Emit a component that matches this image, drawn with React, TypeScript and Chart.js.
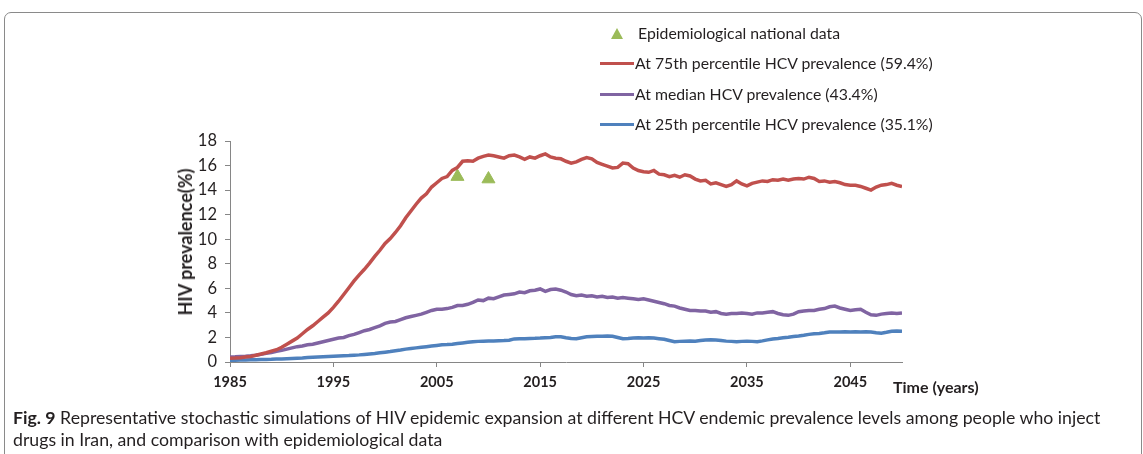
import React, { useEffect, useRef } from "react";
import { Chart, registerables } from "chart.js";

Chart.register(...registerables);

// x grid: half-year steps 1985..2050
const years: number[] = [];
for (let i = 0; i <= 130; i++) years.push(1985 + i * 0.5);

const xTicks = [1985, 1995, 2005, 2015, 2025, 2035, 2045];

const red75 = [
  0.30, 0.32, 0.35, 0.40, 0.45, 0.55, 0.65, 0.75, 0.88, 1.0,
  1.2, 1.45, 1.7, 1.95, 2.3, 2.65, 2.95, 3.3, 3.65, 4.0,
  4.45, 4.95, 5.5, 6.05, 6.6, 7.1, 7.55, 8.05, 8.6, 9.1,
  9.65, 10.05, 10.55, 11.1, 11.75, 12.3, 12.85, 13.35, 13.7, 14.25,
  14.6, 14.95, 15.1, 15.6, 15.85, 16.35, 16.4, 16.35, 16.6, 16.75,
  16.85, 16.8, 16.7, 16.6, 16.8, 16.85, 16.7, 16.5, 16.7, 16.6,
  16.8, 16.95, 16.7, 16.6, 16.55, 16.35, 16.2, 16.3, 16.5, 16.65,
  16.55, 16.25, 16.1, 15.95, 15.8, 15.85, 16.2, 16.15, 15.8, 15.6,
  15.5, 15.45, 15.6, 15.3, 15.25, 15.1, 15.2, 15.05, 15.25, 15.15,
  14.9, 14.75, 14.8, 14.5, 14.6, 14.45, 14.3, 14.45, 14.75, 14.5,
  14.35, 14.55, 14.65, 14.75, 14.7, 14.85, 14.8, 14.9, 14.8, 14.9,
  14.95, 14.9, 15.05, 14.95, 14.7, 14.75, 14.65, 14.7, 14.6, 14.45,
  14.4, 14.4, 14.3, 14.15, 14.0, 14.25, 14.4, 14.45, 14.55, 14.4,
  14.3,
];

const purpleMedian = [
  0.40, 0.42, 0.45, 0.47, 0.5, 0.55, 0.62, 0.7, 0.78, 0.88,
  0.95, 1.05, 1.15, 1.25, 1.3, 1.4, 1.45, 1.55, 1.65, 1.75,
  1.85, 1.95, 2.0, 2.15, 2.25, 2.4, 2.55, 2.65, 2.8, 2.95,
  3.15, 3.25, 3.3, 3.45, 3.6, 3.7, 3.8, 3.9, 4.05, 4.2,
  4.3, 4.3, 4.35, 4.45, 4.6, 4.6, 4.7, 4.85, 5.05, 5.0,
  5.2, 5.15, 5.3, 5.45, 5.5, 5.55, 5.7, 5.65, 5.8, 5.85,
  5.95, 5.75, 5.9, 5.95, 5.85, 5.7, 5.5, 5.4, 5.45, 5.35,
  5.4, 5.3, 5.35, 5.25, 5.3, 5.2, 5.25, 5.2, 5.15, 5.1,
  5.15, 5.05, 4.95, 4.85, 4.75, 4.6, 4.55, 4.4, 4.3, 4.2,
  4.2, 4.15, 4.15, 4.05, 4.1, 3.95, 3.9, 3.95, 3.95, 4.0,
  3.95, 3.9, 4.0, 4.0, 4.05, 4.1, 3.95, 3.85, 3.8, 3.9,
  4.1, 4.15, 4.2, 4.2, 4.3, 4.35, 4.5, 4.55, 4.4, 4.3,
  4.2, 4.25, 4.3, 4.05, 3.85, 3.8, 3.9, 3.95, 4.0, 3.95,
  4.0,
];

const blue25 = [
  0.15, 0.15, 0.16, 0.17, 0.18, 0.19, 0.2, 0.21, 0.22, 0.24,
  0.25, 0.27, 0.29, 0.31, 0.33, 0.36, 0.38, 0.4, 0.42, 0.44,
  0.46, 0.48, 0.5, 0.52, 0.55, 0.58, 0.62, 0.66, 0.7, 0.75,
  0.8, 0.85, 0.92, 0.98, 1.05, 1.1, 1.15, 1.2, 1.25, 1.3,
  1.35, 1.4, 1.42, 1.45, 1.5, 1.55, 1.6, 1.65, 1.68, 1.7,
  1.72, 1.72, 1.74, 1.75, 1.78, 1.88, 1.9, 1.9, 1.92, 1.93,
  1.95, 1.98, 2.0, 2.05, 2.05, 1.98, 1.92, 1.9, 1.98, 2.05,
  2.08, 2.1, 2.1, 2.12, 2.1, 2.0, 1.9, 1.92, 1.95, 1.98,
  1.95, 1.98, 1.95, 1.9, 1.85, 1.75, 1.65, 1.68, 1.7, 1.72,
  1.7, 1.75, 1.8, 1.82, 1.8, 1.75, 1.7, 1.68, 1.65, 1.68,
  1.7, 1.68, 1.65, 1.72, 1.8, 1.88, 1.92, 1.98, 2.02, 2.08,
  2.12, 2.18, 2.25, 2.3, 2.32, 2.38, 2.45, 2.45, 2.44, 2.46,
  2.45, 2.47, 2.45, 2.46, 2.45, 2.38, 2.35, 2.42, 2.5, 2.52,
  2.5,
];

const epiYears = [2007, 2010];
const epiValues = [15.1, 14.9];

const RED = "#C0504D";
const PURPLE = "#8064A2";
const BLUE = "#4F81BD";
const GREEN = "#9BBB59";
const AXIS = "#868686";
const TEXT = "#231F20";
const FONT = "Lato, 'Open Sans', sans-serif";

const legendRows = [
  { label: "At 75th percentile HCV prevalence (59.4%)", color: RED, y: 63 },
  { label: "At median HCV prevalence (43.4%)", color: PURPLE, y: 94 },
  { label: "At 25th percentile HCV prevalence (35.1%)", color: BLUE, y: 124 },
];

export default function App() {
  const ref = useRef<HTMLCanvasElement | null>(null);

  useEffect(() => {
    if (!ref.current) return;
    const toXY = (arr: number[]) => years.map((x, i) => ({ x, y: arr[i] }));
    const chart = new Chart(ref.current, {
      type: "line",
      data: {
        datasets: [
          {
            label: "At 75th percentile HCV prevalence (59.4%)",
            data: toXY(red75),
            borderColor: RED,
            borderWidth: 3.5,
            pointRadius: 0,
            tension: 0,
          },
          {
            label: "At median HCV prevalence (43.4%)",
            data: toXY(purpleMedian),
            borderColor: PURPLE,
            borderWidth: 3.5,
            pointRadius: 0,
            tension: 0,
          },
          {
            label: "At 25th percentile HCV prevalence (35.1%)",
            data: toXY(blue25),
            borderColor: BLUE,
            borderWidth: 3.5,
            pointRadius: 0,
            tension: 0,
          },
          {
            label: "Epidemiological national data",
            data: epiYears.map((x, i) => ({ x, y: epiValues[i] })),
            showLine: false,
            pointStyle: "triangle",
            pointRadius: 7.5,
            backgroundColor: GREEN,
            borderColor: GREEN,
            borderWidth: 1,
          },
        ],
      },
      options: {
        responsive: false,
        animation: false,
        layout: { padding: { left: 0, top: 141, right: 241, bottom: 0 } },
        plugins: { legend: { display: false }, tooltip: { enabled: false } },
        scales: {
          x: {
            type: "linear",
            min: 1985,
            max: 2050,
            afterBuildTicks: (s: any) => {
              s.ticks = xTicks.map((v) => ({ value: v }));
            },
            afterFit: (s: any) => {
              s.height = 92;
            },
            ticks: {
              autoSkip: false,
              maxRotation: 0,
              padding: 7,
              color: TEXT,
              font: { family: FONT, size: 14.5, weight: "bold" },
              callback: (v: any) => String(v),
            },
            grid: { drawOnChartArea: false, drawTicks: true, tickLength: 5, color: AXIS },
            border: { color: AXIS, width: 1 },
          },
          y: {
            min: 0,
            max: 18,
            afterFit: (s: any) => {
              s.width = 230;
            },
            ticks: {
              stepSize: 2,
              padding: 8,
              color: TEXT,
              font: { family: FONT, size: 16.5 },
            },
            grid: { drawOnChartArea: false, drawTicks: true, tickLength: 5, color: AXIS },
            border: { color: AXIS, width: 1 },
          },
        },
      },
    });
    return () => chart.destroy();
  }, []);

  return (
    <div
      style={{
        position: "absolute",
        left: 0,
        top: 0,
        width: 1143,
        height: 454,
        overflow: "hidden",
        background: "#fff",
        fontFamily: FONT,
        color: TEXT,
      }}
    >
      <div
        style={{
          position: "absolute",
          left: 4,
          top: 12,
          width: 1136,
          height: 470,
          border: "1.5px solid #8a8a8a",
          borderRadius: 7,
        }}
      />
      <canvas ref={ref} width={1143} height={454} style={{ position: "absolute", left: 0, top: 0 }} />
      {/* legend */}
      <div
        style={{
          position: "absolute",
          left: 611,
          top: 28,
          width: 0,
          height: 0,
          borderLeft: "6.5px solid transparent",
          borderRight: "6.5px solid transparent",
          borderBottom: `11px solid ${GREEN}`,
        }}
      />
      <div
        style={{
          position: "absolute",
          left: 638,
          top: 24,
          fontSize: 15.8,
          lineHeight: "18px",
          whiteSpace: "nowrap",
        }}
      >
        Epidemiological national data
      </div>
      {legendRows.map((r) => (
        <React.Fragment key={r.label}>
          <div
            style={{
              position: "absolute",
              left: 600,
              top: r.y - 1.5,
              width: 34,
              height: 3,
              background: r.color,
            }}
          />
          <div
            style={{
              position: "absolute",
              left: 635,
              top: r.y - 9,
              fontSize: 15.8,
              lineHeight: "18px",
              whiteSpace: "nowrap",
            }}
          >
            {r.label}
          </div>
        </React.Fragment>
      ))}
      {/* y axis title */}
      <div
        style={{
          position: "absolute",
          left: 185,
          top: 242,
          transform: "translate(-50%, -50%) rotate(-90deg)",
          fontSize: 18,
          fontWeight: "bold",
          whiteSpace: "nowrap",
          lineHeight: "20px",
        }}
      >
        HIV prevalence(%)
      </div>
      {/* x axis title */}
      <div
        style={{
          position: "absolute",
          left: 893,
          top: 377,
          fontSize: 16,
          fontWeight: "bold",
          whiteSpace: "nowrap",
          lineHeight: "20px",
        }}
      >
        Time (years)
      </div>
      {/* caption */}
      <div
        style={{
          position: "absolute",
          left: 13,
          top: 407,
          fontSize: 17.7,
          lineHeight: "22px",
          whiteSpace: "nowrap",
        }}
      >
        <div>
          <b>Fig. 9</b> Representative stochastic simulations of HIV epidemic expansion at different HCV endemic
          prevalence levels among people who inject
        </div>
        <div>drugs in Iran, and comparison with epidemiological data</div>
      </div>
    </div>
  );
}
